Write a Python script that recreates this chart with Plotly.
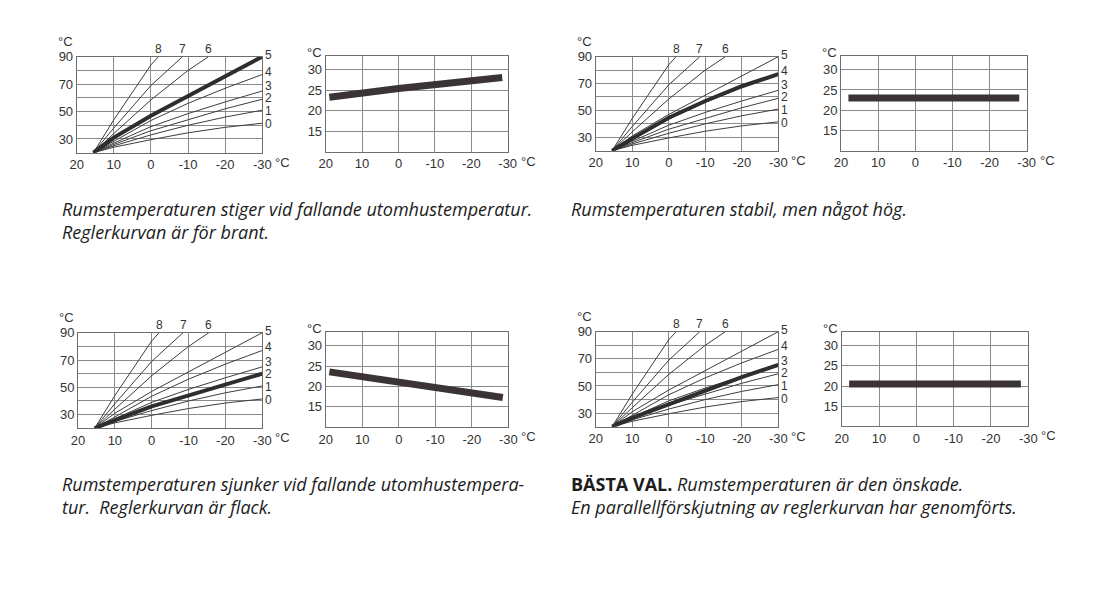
import plotly.graph_objects as go

# ---------------- data ----------------
# outdoor temperature sample points, °C
outdoor = [15.5, 10, 0, -10, -20, -30]
curve_0 = [20, 24, 29.5, 34.5, 38.5, 41.5]
curve_1 = [20, 25, 33, 40, 46, 51]
curve_2 = [20, 26, 36, 44, 52, 59]
curve_3 = [20, 27, 39, 48.5, 57, 65]
curve_4 = [20, 28.5, 43.5, 56, 67, 77]
curve_5 = [20, 31, 47, 61.5, 76, 90]
outdoor_6 = [15.5, 10, 0, -10, -15.5]
curve_6 = [20, 34, 58.5, 80, 90]
outdoor_7 = [15.5, 10, 0, -8.5]
curve_7 = [20, 38, 69, 90]
outdoor_8 = [15.5, 10, 0, -2]
curve_8 = [20, 44, 84, 90]

# selected (thick) heating curve in each case
selected_brant = [20, 31, 47, 61.5, 76, 90]
selected_hog = [20, 29, 44.5, 57, 68, 77]
selected_flack = [20, 26, 36, 44, 52, 60]
selected_basta = [20, 26.5, 36.5, 46.5, 56.5, 65.5]

# resulting room temperature
room_x_sloped = [19, 0, -28.5]
room_stiger = [23.3, 25.4, 28.1]
room_sjunker = [23.6, 21.2, 17.3]
room_x_flat = [18, -28]
room_stabil = [23, 23]
room_basta = [20.5, 20.5]

x_ticks = [20, 10, 0, -10, -20, -30]
flow_grid = [20, 30, 40, 50, 60, 70, 80, 90]
flow_labels = ["", "30", "", "50", "", "70", "", "90"]
room_ticks = [15, 20, 25, 30]
room_labels = ["15", "20", "25", "30"]

captions = [
    "<i>Rumstemperaturen stiger vid fallande utomhustemperatur.</i><br><i>Reglerkurvan är för brant.</i>",
    "<i>Rumstemperaturen stabil, men något hög.</i>",
    "<i>Rumstemperaturen sjunker vid fallande utomhustempera-</i><br><i>tur.  Reglerkurvan är flack.</i>",
    "<b>BÄSTA VAL.</b> <i>Rumstemperaturen är den önskade.</i><br><i>En parallellförskjutning av reglerkurvan har genomförts.</i>",
]

# ---------------- styling / layout ----------------
W, H = 1111, 614
TXT = "#333333"
GRID = "#8a8a8a"
FRAME = "#6e6e6e"
LINE = "#3d3d3d"
BAND = "#3a3434"
TICKFONT = dict(family="Liberation Sans, Arial, sans-serif", size=13, color=TXT)
LABELFONT = dict(family="Liberation Sans, Arial, sans-serif", size=12, color=TXT)
CAPFONT = dict(family="Open Sans, sans-serif", size=18, color="#1c1c1c")

def px_dom_x(a, b):
    return [a / W, b / W]

def px_dom_y(top, bottom):
    return [1 - bottom / H, 1 - top / H]

panels = [
    ("curve", (76.7, 262.3), (56.7, 152.7), selected_brant),
    ("room", (325.7, 507.7), (55.5, 151.5), (room_x_sloped, room_stiger)),
    ("curve", (595.7, 778.3), (56.7, 150.7), selected_hog),
    ("room", (841.0, 1026.7), (55.7, 150.5), (room_x_flat, room_stabil)),
    ("curve", (78.0, 262.3), (332.7, 428.3), selected_flack),
    ("room", (325.7, 508.3), (331.5, 427.3), (room_x_sloped, room_sjunker)),
    ("curve", (595.7, 778.3), (331.7, 426.7), selected_basta),
    ("room", (841.7, 1028.3), (331.7, 426.3), (room_x_flat, room_basta)),
]

thin_curves = [
    ("0", outdoor, curve_0), ("1", outdoor, curve_1), ("2", outdoor, curve_2),
    ("3", outdoor, curve_3), ("4", outdoor, curve_4), ("5", outdoor, curve_5),
    ("6", outdoor_6, curve_6), ("7", outdoor_7, curve_7), ("8", outdoor_8, curve_8),
]
label_yshift = {"0": -1, "1": -1, "2": 1, "3": 5, "4": 3, "5": 2}

fig = go.Figure()
annotations = []
layout = dict(
    width=W, height=H, autosize=False,
    margin=dict(l=0, r=0, t=0, b=0, autoexpand=False),
    paper_bgcolor="white", plot_bgcolor="white",
    showlegend=False,
)

for i, (kind, xd, yd, data) in enumerate(panels):
    n = i + 1
    xa = "x" if n == 1 else f"x{n}"
    ya = "y" if n == 1 else f"y{n}"
    xkey = "xaxis" if n == 1 else f"xaxis{n}"
    ykey = "yaxis" if n == 1 else f"yaxis{n}"
    common = dict(showgrid=True, gridcolor=GRID, gridwidth=1, showline=True,
                  linecolor=FRAME, linewidth=1, mirror=True, ticks="",
                  zeroline=False, tickfont=TICKFONT, fixedrange=True, automargin=False)
    layout[xkey] = dict(domain=px_dom_x(*xd), range=[20, -30], tickvals=x_ticks,
                        ticktext=[str(v) for v in x_ticks], anchor=ya, **common)
    if kind == "curve":
        layout[ykey] = dict(domain=px_dom_y(*yd), range=[20, 90], tickvals=flow_grid,
                            ticktext=flow_labels, anchor=xa, **common)
        for name, xs, ys in thin_curves:
            fig.add_trace(go.Scatter(x=xs, y=ys, mode="lines", xaxis=xa, yaxis=ya,
                                     line=dict(color=LINE, width=1), hoverinfo="skip"))
            if name in label_yshift:
                annotations.append(dict(text=name, x=xs[-1], y=ys[-1], xref=xa, yref=ya,
                                        xanchor="left", yanchor="middle", xshift=1,
                                        yshift=label_yshift[name], showarrow=False,
                                        font=LABELFONT))
            else:
                annotations.append(dict(text=name, x=xs[-1], y=ys[-1], xref=xa, yref=ya,
                                        xanchor="center", yanchor="bottom", yshift=-1,
                                        showarrow=False, font=LABELFONT))
        fig.add_trace(go.Scatter(x=outdoor, y=data, mode="lines", xaxis=xa, yaxis=ya,
                                 line=dict(color="#2e2e2e", width=4), hoverinfo="skip"))
        top_val = 90
        ushift = 15
    else:
        layout[ykey] = dict(domain=px_dom_y(*yd), range=[10, 33.5], tickvals=room_ticks,
                            ticktext=room_labels, anchor=xa, **common)
        rx, ry = data
        fig.add_trace(go.Scatter(x=rx, y=ry, mode="lines", xaxis=xa, yaxis=ya,
                                 line=dict(color=BAND, width=7), hoverinfo="skip"))
        top_val = 30
        ushift = 17
    # unit labels
    annotations.append(dict(text="°C", x=0, xref=f"{xa} domain", y=top_val, yref=ya,
                            xanchor="right", yanchor="middle", xshift=-2, yshift=ushift,
                            showarrow=False, font=TICKFONT))
    annotations.append(dict(text="°C", x=1, xref=f"{xa} domain", y=0, yref=f"{ya} domain",
                            xanchor="left", yanchor="top", xshift=11, yshift=0,
                            showarrow=False, font=TICKFONT))

cap_pos = [(60, 195), (569, 195), (60, 470), (569, 470)]
for (cx, cy), txt in zip(cap_pos, captions):
    annotations.append(dict(text=txt, x=cx / W, y=1 - cy / H, xref="paper", yref="paper",
                            xanchor="left", yanchor="top", align="left", showarrow=False,
                            font=CAPFONT))

layout["annotations"] = annotations
fig.update_layout(**layout)
fig.write_html("out.html")
